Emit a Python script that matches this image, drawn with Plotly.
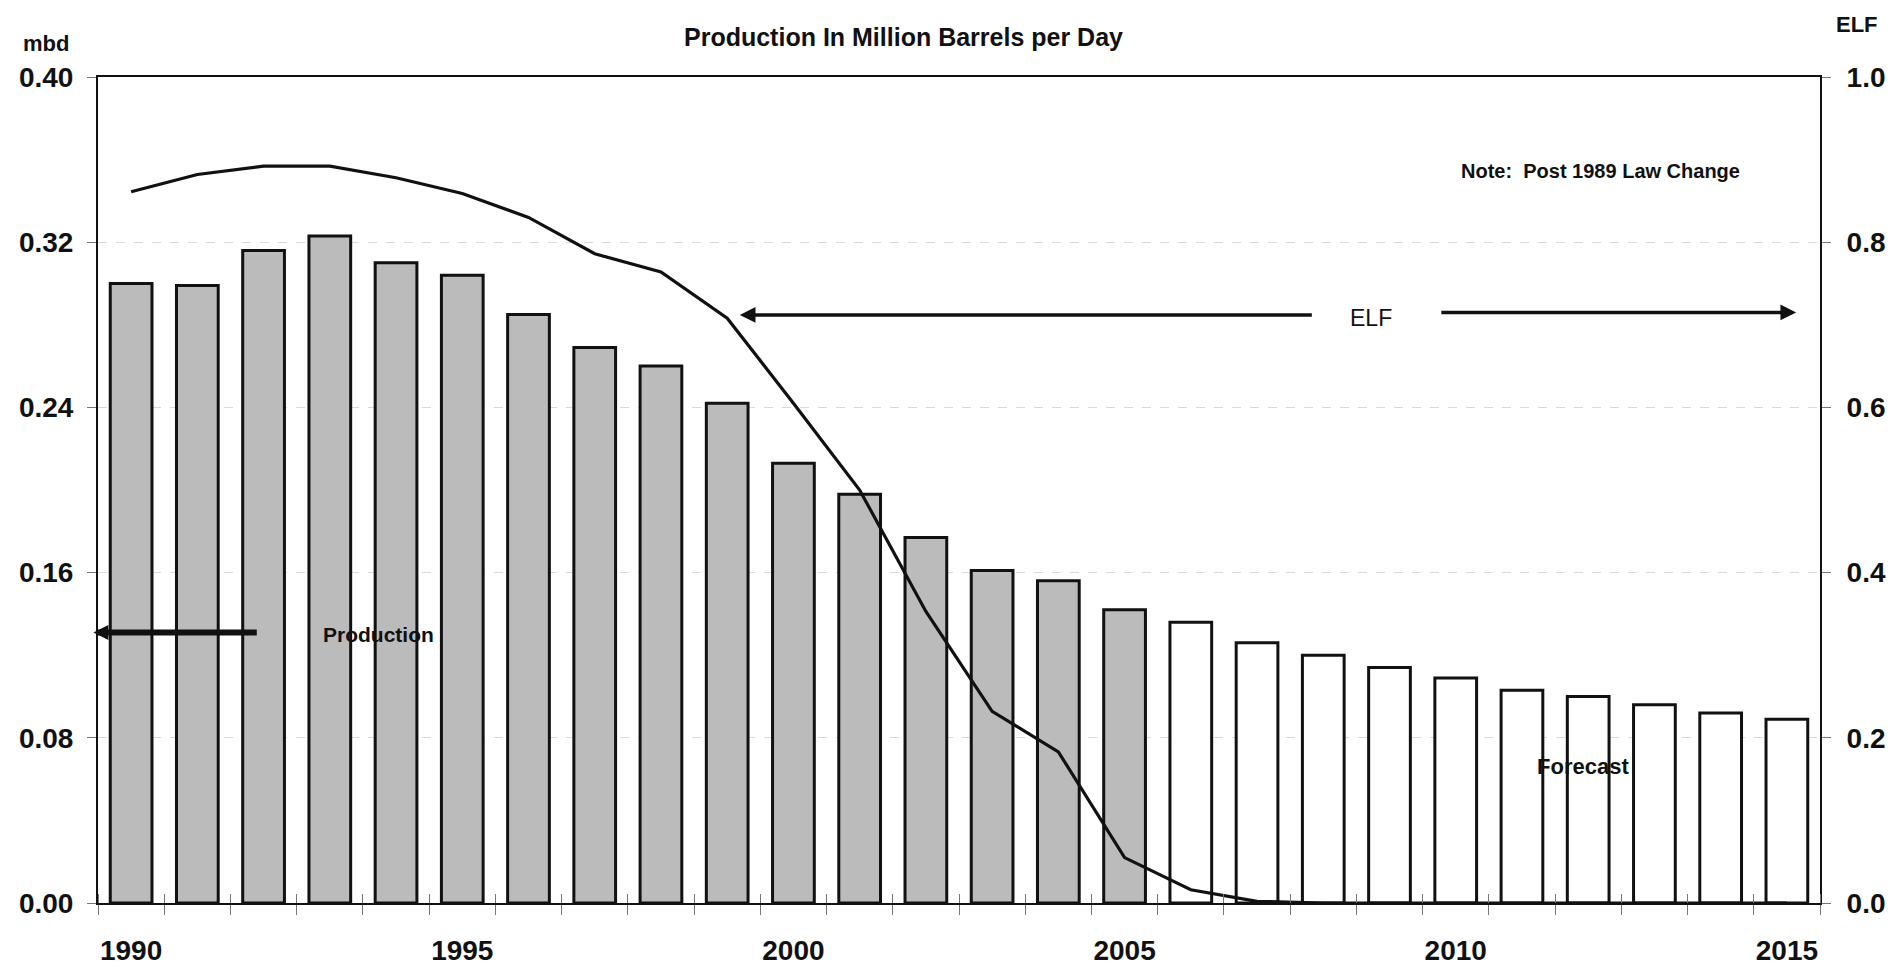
import plotly.graph_objects as go

# Alaska-style production profile: historic bars, forecast bars, and ELF curve
years = list(range(1990, 2016))
production_mbd = [
    0.300, 0.299, 0.316, 0.323, 0.310, 0.304, 0.285, 0.269, 0.260, 0.242,
    0.213, 0.198, 0.177, 0.161, 0.156, 0.142, 0.136, 0.126, 0.120, 0.114,
    0.109, 0.103, 0.100, 0.096, 0.092, 0.089,
]
elf = [
    0.861, 0.882, 0.892, 0.892, 0.878, 0.859, 0.830, 0.786, 0.764, 0.708,
    0.605, 0.500, 0.353, 0.232, 0.183, 0.055, 0.016, 0.002, 0.0, 0.0,
    0.0, 0.0, 0.0, 0.0, 0.0, 0.0,
]
last_actual_year = 2005

left_ticks = [0.00, 0.08, 0.16, 0.24, 0.32, 0.40]
left_ticktext = ["0.00", "0.08", "0.16", "0.24", "0.32", "0.40"]
right_ticks = [0.0, 0.2, 0.4, 0.6, 0.8, 1.0]
right_ticktext = ["0.0", "0.2", "0.4", "0.6", "0.8", "1.0"]
year_labels = [1990, 1995, 2000, 2005, 2010, 2015]

FONT = "Liberation Sans, Arial, sans-serif"
bar_fill = ["#bbbbbb" if y <= last_actual_year else "#ffffff" for y in years]

fig = go.Figure()
fig.add_trace(go.Bar(
    x=years, y=production_mbd, width=0.63,
    marker=dict(color=bar_fill, line=dict(color="#111111", width=3)),
    xaxis="x", yaxis="y", showlegend=False,
))
fig.add_trace(go.Scatter(
    x=years, y=elf, mode="lines",
    line=dict(color="#111111", width=3.2),
    xaxis="x2", yaxis="y2", showlegend=False,
))

tick_font = dict(family=FONT, size=28, color="#111111", weight="bold")
x_range = [1989.5, 2015.5]

fig.update_layout(
    width=1893, height=969,
    margin=dict(l=98, r=73, t=77, b=66),
    paper_bgcolor="white", plot_bgcolor="white",
    xaxis=dict(
        range=x_range, tickmode="array", tickvals=year_labels, automargin=False,
        ticks="", showgrid=False, zeroline=False,
        showline=True, linecolor="#111111", linewidth=2, mirror=True,
        tickfont=tick_font, ticklabelstandoff=21,
        minor=dict(ticks="outside", tick0=1989.5, dtick=1, ticklen=10,
                   tickcolor="#777777", tickwidth=1, showgrid=False),
    ),
    # same scale as the bar axis, only adds the inner half of the year ticks
    xaxis2=dict(
        range=x_range, overlaying="x", anchor="y2", side="bottom", automargin=False,
        showticklabels=False, ticks="", showgrid=False, zeroline=False, showline=False,
        minor=dict(ticks="inside", tick0=1989.5, dtick=1, ticklen=9,
                   tickcolor="#777777", tickwidth=1, showgrid=False),
    ),
    yaxis=dict(
        range=[0, 0.40], tickmode="array", tickvals=left_ticks, ticktext=left_ticktext,
        automargin=False,
        ticks="outside", ticklen=9, tickcolor="#777777", tickwidth=1,
        showgrid=True, gridcolor="#d9d9d9", griddash="dash", gridwidth=1,
        zeroline=False, showline=True, linecolor="#111111", linewidth=2,
        tickfont=tick_font, ticklabelstandoff=8,
    ),
    yaxis2=dict(
        range=[0, 1.0], overlaying="y", side="right", anchor="x2", automargin=False,
        tickmode="array", tickvals=right_ticks, ticktext=right_ticktext,
        ticks="outside", ticklen=9, tickcolor="#777777", tickwidth=1,
        showgrid=False, zeroline=False, showline=True, linecolor="#111111", linewidth=2,
        tickfont=tick_font, ticklabelstandoff=10,
    ),
)

ann = []
# headings
ann.append(dict(text="Production In Million Barrels per Day", xref="paper", yref="paper",
                x=0.468, y=1.048, showarrow=False, xanchor="center", yanchor="middle",
                font=dict(family=FONT, size=25, color="#111111", weight="bold")))
ann.append(dict(text="mbd", xref="paper", yref="paper", x=-0.0302, y=1.041,
                showarrow=False, xanchor="center", yanchor="middle",
                font=dict(family=FONT, size=22, color="#111111", weight="bold")))
ann.append(dict(text="ELF", xref="paper", yref="paper", x=1.0215, y=1.063,
                showarrow=False, xanchor="center", yanchor="middle",
                font=dict(family=FONT, size=22, color="#111111", weight="bold")))
ann.append(dict(text="Note:  Post 1989 Law Change", xref="x", yref="y2", x=2012.18, y=0.886,
                showarrow=False, xanchor="center", yanchor="middle",
                font=dict(family=FONT, size=20, color="#111111", weight="bold")))
# ELF span arrows and label
ann.append(dict(text="ELF", xref="x", yref="y2", x=2008.72, y=0.708, showarrow=False,
                xanchor="center", yanchor="middle",
                font=dict(family=FONT, size=23, color="#111111")))
ann.append(dict(text="", xref="x", yref="y2", axref="x", ayref="y2",
                x=1999.19, y=0.712, ax=2007.85, ay=0.712,
                showarrow=True, arrowhead=2, arrowsize=0.9, arrowwidth=3.5,
                arrowcolor="#111111", standoff=0, startstandoff=0))
ann.append(dict(text="", xref="x", yref="y2", axref="x", ayref="y2",
                x=2015.14, y=0.715, ax=2009.76, ay=0.715,
                showarrow=True, arrowhead=2, arrowsize=0.9, arrowwidth=3.5,
                arrowcolor="#111111", standoff=0, startstandoff=0))
# production pointer and label
ann.append(dict(text="", xref="x", yref="y", axref="x", ayref="y",
                x=1989.43, y=0.131, ax=1991.92, ay=0.131,
                showarrow=True, arrowhead=2, arrowsize=0.5, arrowwidth=6,
                arrowcolor="#111111", standoff=0, startstandoff=0))
ann.append(dict(text="Production", xref="x", yref="y", x=1993.73, y=0.130,
                showarrow=False, xanchor="center", yanchor="middle",
                font=dict(family=FONT, size=21, color="#111111", weight="bold")))
ann.append(dict(text="Forecast", xref="x", yref="y", x=2011.92, y=0.066,
                showarrow=False, xanchor="center", yanchor="middle",
                font=dict(family=FONT, size=22, color="#111111", weight="bold")))
fig.update_layout(annotations=ann)

fig.write_html("out.html")
